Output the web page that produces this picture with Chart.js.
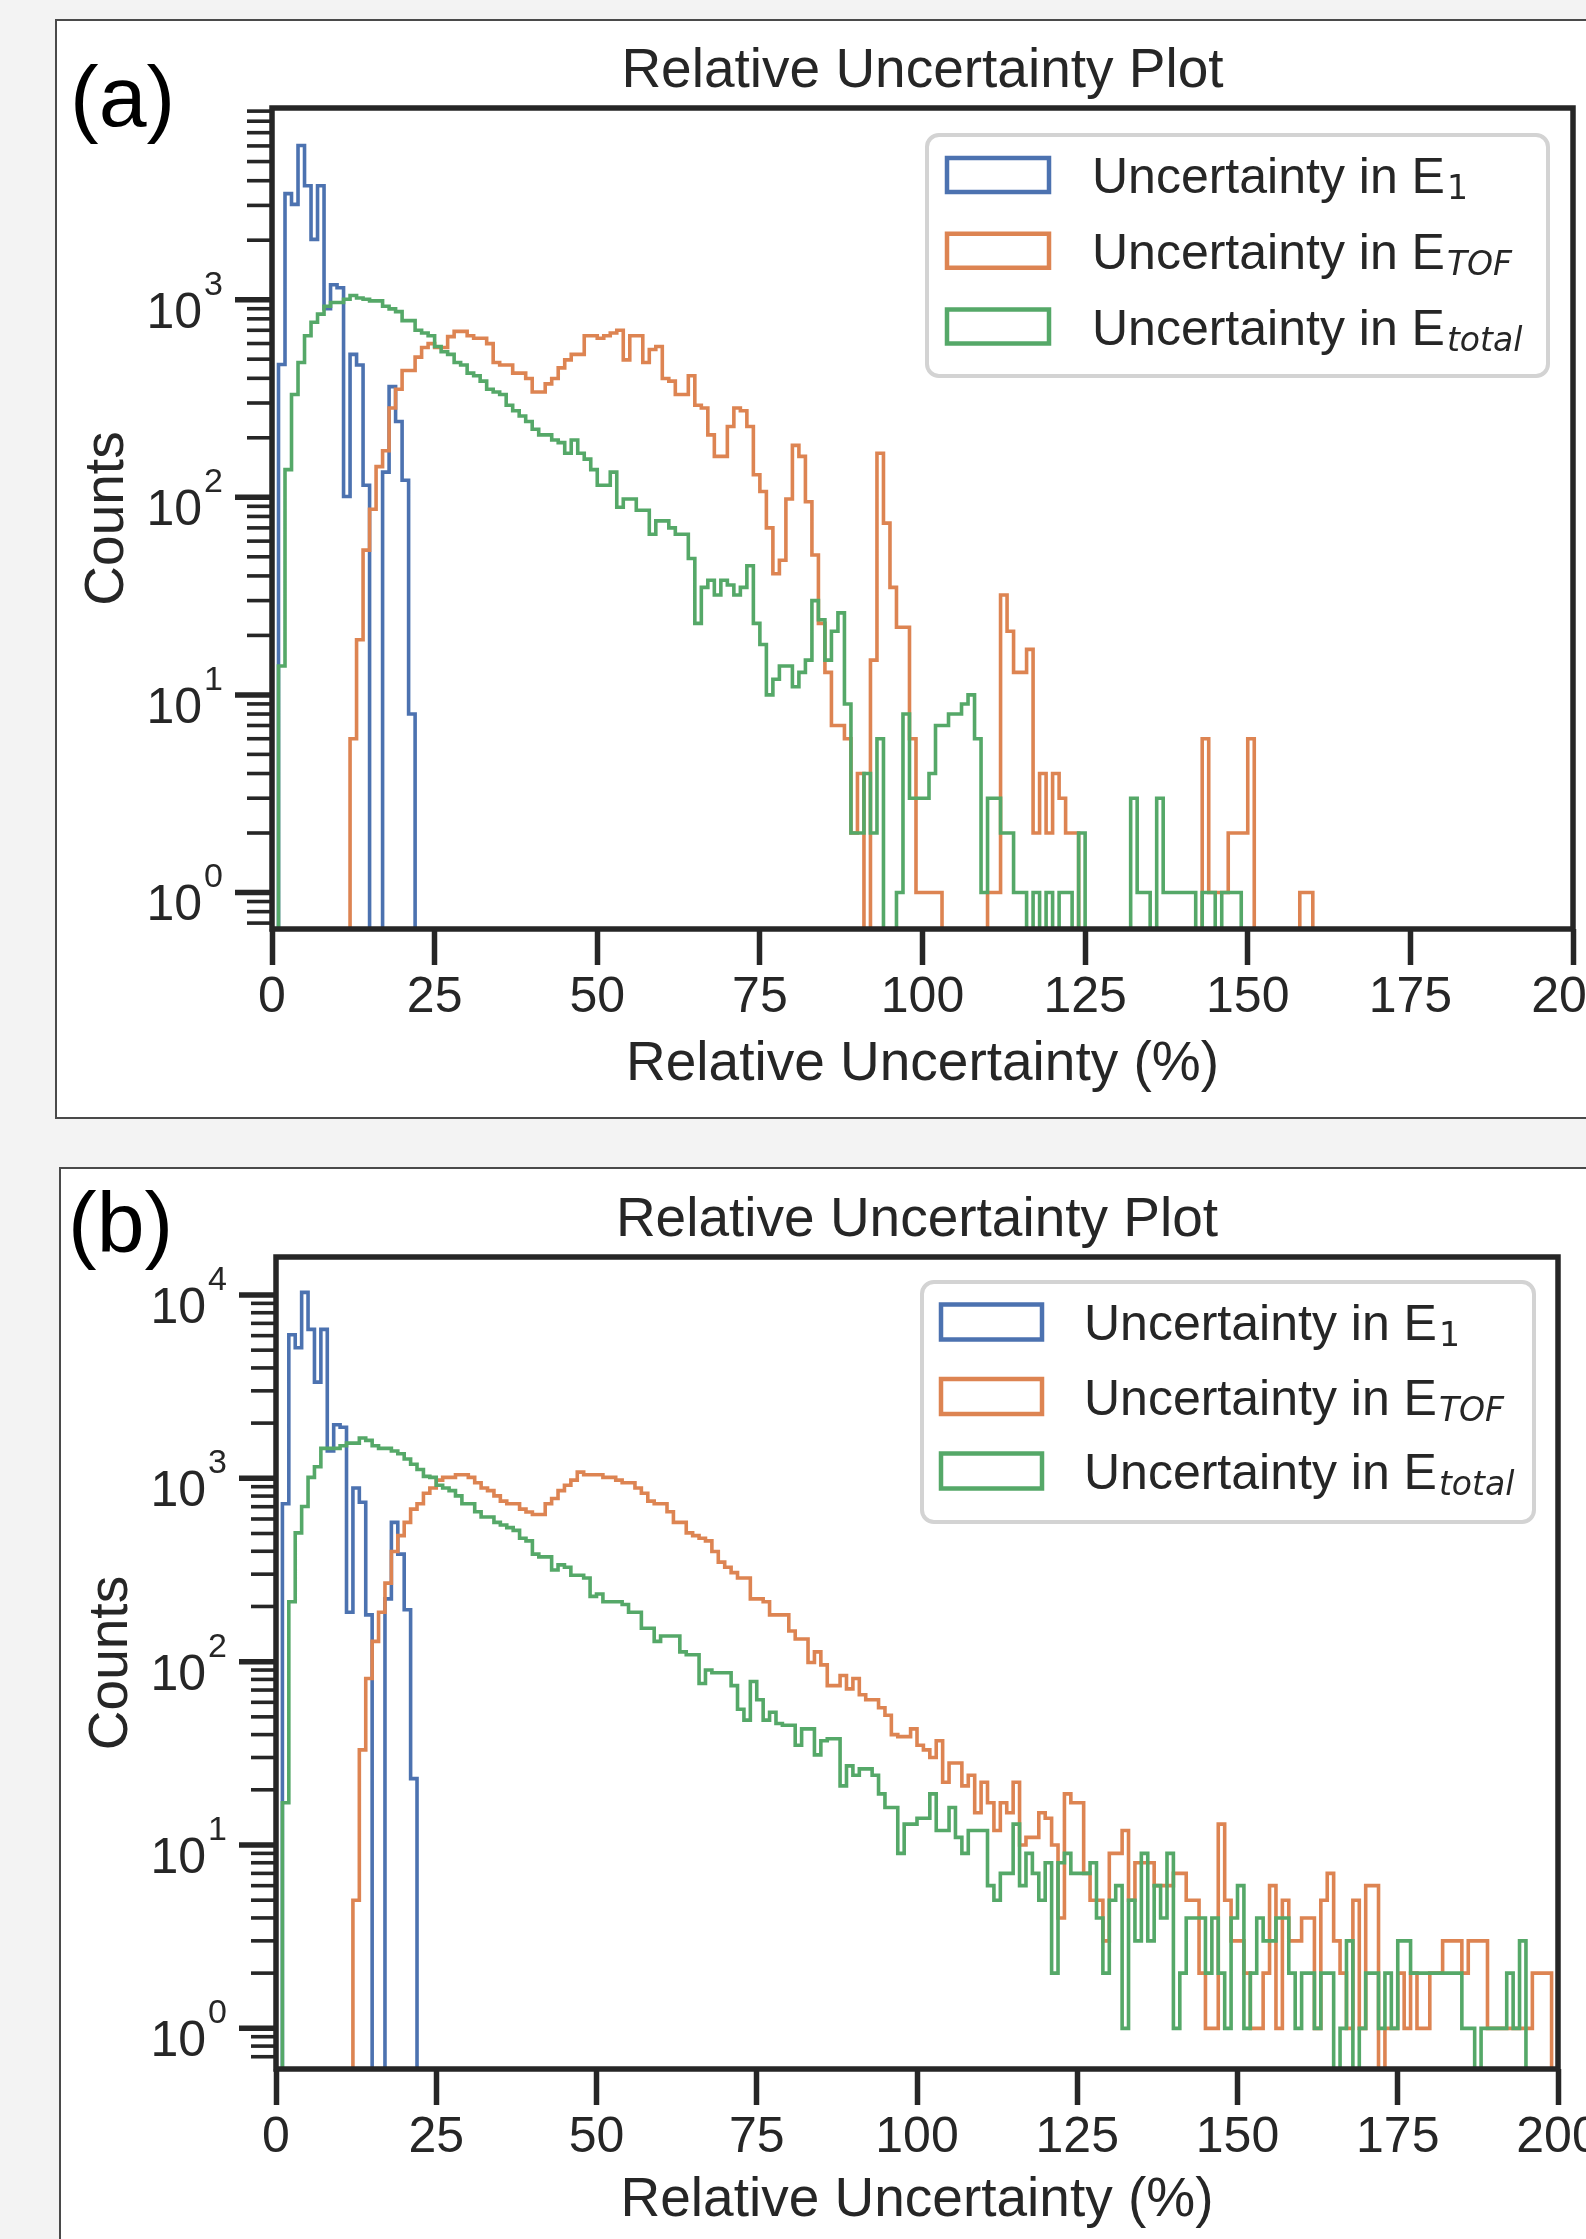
<!DOCTYPE html>
<html>
<head>
<meta charset="utf-8">
<title>Relative Uncertainty Plot</title>
<script src="https://cdn.jsdelivr.net/npm/chart.js@4.4.1/dist/chart.umd.min.js"></script>
<style>
  html, body { margin:0; padding:0; }
  body { width:1586px; height:2239px; overflow:hidden; position:relative; background:#f3f3f3; }
  .frame { position:absolute; background:#fff; border:2px solid #4a4a4a; box-sizing:border-box; }
  #frameA { left:55px; top:19px; width:1700px; height:1100px; }
  #frameB { left:59px; top:1167px; width:1700px; height:1200px; }
  canvas { position:absolute; left:0; }
  #cA { top:0; }
  #cB { top:1140px; }
</style>
</head>
<body>
<div class="frame" id="frameA"></div>
<div class="frame" id="frameB"></div>
<canvas id="cA" width="1700" height="1118"></canvas>
<canvas id="cB" width="1700" height="1099"></canvas>
<script>
// ---------------- DATA ----------------
// histogram bins: bin i covers [binStart + i*binWidth, binStart + (i+1)*binWidth)
const binStart = 0;
const binWidth = 1;

// Panel (a) counts per bin
const a_E1 = [0,470,3440,3035,6030,3775,2020,3775,900,1190, 1150,101,529,467,115,0,0,134,363,242, 122,8];
const a_ETOF = [
  0,0,0,0,0,0,0,0,0,0,
  0,0,6,19,54,87,143,172,283,352,
  438,438,512,573,599,573,573,650,691,691,
  657,638,638,599,481,467,467,425,425,399,
  341,341,375,399,452,496,529,529,657,657,
  638,657,678,700,496,657,657,481,560,580,
  399,387,331,331,412,292,283,207,161,161,
  228,283,274,228,130,107,70,41,48,98,
  183,161,95,51,23,13,7,7,6,2,
  4,0,15,167,74,35,22,22,6,1,
  1,1,1,0,0,0,0,0,0,0,
  1,1,32,21,13,13,17,2,4,2,
  4,3,2,2,0,0,0,0,0,0,
  0,0,0,0,0,0,0,0,0,0,
  0,0,0,6,1,1,1,2,2,2,
  6,0,0,0,0,0,0,0,1,1];
const a_Etotal = [
  0,14,138,331,481,657,769,845,927,968,
  968,1005,1050,1020,1005,986,986,927,898,870,
  783,783,700,678,657,580,545,529,481,467,
  425,412,387,352,341,331,292,274,258,242,
  221,207,207,195,189,167,195,167,156,138,
  115,115,134,89,98,98,86,86,65,76,
  76,70,65,65,49,23,35,38,32,38,
  36,32,35,45,23,18,10,12,14,14,
  11,13,15,30,24,15,21,26,9,2,
  2,4,2,6,0,0,1,8,3,3,
  3,4,7,7,8,8,9,10,6,1,
  3,3,2,2,1,1,0,1,0,1,
  0,1,1,0,2,0,0,0,0,0,
  0,0,3,1,1,0,3,1,1,1,
  1,1,0,1,1,0,1,1,1];

// Panel (b) counts per bin
const b_E1 = [0,726,6070,5150,10330,6490,3345,6490,1409,1960, 1900,186,886,740,180,0,0,220,575,386, 192,23];
const b_ETOF = [
  0,0,0,0,0,0,0,0,0,0,
  0,0,5,33,81,129,186,268,399,487,
  575,679,726,829,886,978,1012,1012,1046,1046,
  1012,946,886,857,802,751,726,726,679,655,
  635,635,726,776,857,916,978,1081,1046,1046,
  1046,1012,1012,978,946,946,886,829,751,726,
  726,657,575,575,504,487,471,456,399,349,
  327,306,286,286,220,220,212,180,180,180,
  147,133,133,99,113,96,74,74,84,71,
  81,66,62,62,56,51,40,39,39,43,
  35,33,30,37,22,28,28,21,24,15,
  22,17,12,17,15,22,10,11,11,15,
  14,10,4,19,17,17,7,5,5,3,
  9,9,12,5,8,8,8,6,6,6,
  7,7,5,5,2,1,1,13,5,3,
  3,2,1,1,2,6,1,5,3,3,
  4,4,1,5,7,3,2,1,5,1,
  6,6,0,1,1,2,1,2,1,1,
  2,2,3,3,3,2,3,3,3,1,
  1,1,1,1,1,1,2,2,2];
const b_Etotal = [
  0,17,212,504,702,1012,1156,1456,1456,1456,
  1506,1556,1556,1660,1610,1506,1456,1456,1409,1362,
  1275,1194,1117,1024,1012,916,886,857,802,726,
  726,657,615,615,575,556,538,520,471,456,
  386,373,373,316,337,327,296,296,286,227,
  234,212,212,212,205,186,186,152,152,129,
  138,138,138,113,109,109,76,90,87,87,
  87,74,55,48,78,62,48,53,46,45,
  45,35,43,43,31,37,38,38,21,27,
  24,26,26,24,19,16,16,9,13,13,
  14,14,19,12,12,16,11,9,12,12,
  12,6,5,7,7,13,6,9,7,5,
  8,2,8,9,7,7,7,8,4,2,
  5,6,1,5,3,9,3,6,4,9,
  1,2,4,4,4,2,4,2,1,4,
  6,1,2,4,3,3,4,4,2,1,
  2,2,1,2,2,0,1,3,0,1,
  2,2,1,2,1,3,3,2,2,2,
  2,2,2,2,2,1,1,0,1,1,
  1,1,2,1,3];

// Axis ticks / labels
const xTickValues = [0,25,50,75,100,125,150,175,200];
const yMajorA = [1,10,100,1000];
const yExpA = ['0','1','2','3'];
const yMinorA = [0.7,0.8,0.9,2,3,4,5,6,7,8,9,20,30,40,50,60,70,80,90,200,300,400,500,600,700,800,900,2000,3000,4000,5000,6000,7000,8000,9000];
const yMajorB = [1,10,100,1000,10000];
const yExpB = ['0','1','2','3','4'];
const yMinorB = [0.7,0.8,0.9,2,3,4,5,6,7,8,9,20,30,40,50,60,70,80,90,200,300,400,500,600,700,800,900,2000,3000,4000,5000,6000,7000,8000,9000];

const titleText = 'Relative Uncertainty Plot';
const xTitle = 'Relative Uncertainty (%)';
const yTitle = 'Counts';
const legendMain = 'Uncertainty in E';
const legendSubs = ['1','TOF','total'];
const legendSubItalic = [false,true,true];

// ---------------- STYLE ----------------
const FONT = '"Liberation Sans", Arial, sans-serif';
const INK = '#262626';
const COLORS = ['#4C72B0','#DD8452','#55A868'];
const ZERO = 0.01; // log axis: empty bins fall below the visible range (clipped)

function stepPoints(counts){
  const pts = [{x: binStart, y: ZERO}];
  counts.forEach((c, i) => pts.push({x: binStart + i*binWidth, y: c > 0 ? c : ZERO}));
  pts.push({x: binStart + counts.length*binWidth, y: ZERO});
  return pts;
}
function ds(counts, color, label, order){
  return { label, data: stepPoints(counts), borderColor: color, backgroundColor: color,
    borderWidth: 3.6, pointRadius: 0, fill: false, stepped: 'before', tension: 0,
    borderJoinStyle: 'miter', borderCapStyle: 'butt', order };
}
function line(ctx, x1, y1, x2, y2){ ctx.beginPath(); ctx.moveTo(x1,y1); ctx.lineTo(x2,y2); ctx.stroke(); }
function roundRect(ctx, x, y, w, h, r){
  ctx.beginPath();
  ctx.moveTo(x+r, y); ctx.lineTo(x+w-r, y); ctx.arcTo(x+w, y, x+w, y+r, r);
  ctx.lineTo(x+w, y+h-r); ctx.arcTo(x+w, y+h, x+w-r, y+h, r);
  ctx.lineTo(x+r, y+h); ctx.arcTo(x, y+h, x, y+h-r, r);
  ctx.lineTo(x, y+r); ctx.arcTo(x, y, x+r, y, r); ctx.closePath();
}

const decor = {
  id: 'decor',
  afterDraw(chart, args, o){
    const ctx = chart.ctx, a = chart.chartArea, y = chart.scales.y;
    ctx.save();
    ctx.strokeStyle = INK; ctx.fillStyle = INK;
    // y minor ticks
    ctx.lineWidth = 3.6;
    o.yMinor.forEach(v => { const py = y.getPixelForValue(v); line(ctx, a.left - 25, py, a.left, py); });
    // y major ticks + labels
    ctx.lineWidth = 5.5;
    o.yMajor.forEach((v, i) => {
      const py = y.getPixelForValue(v);
      line(ctx, a.left - 37, py, a.left, py);
      ctx.textAlign = 'right'; ctx.textBaseline = 'alphabetic';
      ctx.font = '34px ' + FONT;
      const sup = o.yExp[i];
      const w = ctx.measureText(sup).width;
      ctx.fillText(sup, a.left - 49, py - 5);
      ctx.font = '50px ' + FONT;
      ctx.fillText('10', a.left - 49 - w - 2, py + 28);
    });
    // axes frame
    ctx.lineWidth = 5.5;
    ctx.strokeRect(a.left, a.top, a.right - a.left, a.bottom - a.top);
    // title and axis titles
    ctx.textAlign = 'center'; ctx.textBaseline = 'alphabetic';
    ctx.font = '55px ' + FONT;
    ctx.fillText(titleText, (a.left + a.right)/2, a.top - 21);
    ctx.fillText(xTitle, (a.left + a.right)/2, a.bottom + o.xTitleOffset);
    ctx.save();
    ctx.translate(a.left - 149, (a.top + a.bottom)/2);
    ctx.rotate(-Math.PI/2);
    ctx.fillText(yTitle, 0, 0);
    ctx.restore();
    // panel label
    ctx.textAlign = 'left'; ctx.fillStyle = '#000';
    ctx.font = '86px ' + FONT;
    ctx.fillText(o.panel, o.panelX, o.panelY);
    // legend
    const L = o.legend;
    roundRect(ctx, L.x, L.y, L.w, L.h, 12);
    ctx.fillStyle = 'rgba(255,255,255,0.85)'; ctx.fill();
    ctx.strokeStyle = '#d3d3d3'; ctx.lineWidth = 4; ctx.stroke();
    chart.data.datasets.forEach((d, i) => {
      const cy = L.row0 + i*L.rowGap;
      ctx.strokeStyle = d.borderColor; ctx.lineWidth = 4.5;
      ctx.strokeRect(L.hx, cy - L.hh/2, L.hw, L.hh);
      ctx.fillStyle = INK; ctx.textAlign = 'left';
      ctx.font = '50px ' + FONT;
      const base = cy + 18;
      ctx.fillText(legendMain, L.tx, base);
      const w = ctx.measureText(legendMain).width;
      ctx.font = (legendSubItalic[i] ? 'oblique ' : '') + '33px "DejaVu Sans"';
      ctx.fillText(legendSubs[i], L.tx + w + 2, base + 6);
    });
    ctx.restore();
  }
};

function makeChart(id, P){
  return new Chart(document.getElementById(id), {
    type: 'line',
    data: { datasets: [
      ds(P.e1, COLORS[0], 'Uncertainty in E1', 3),
      ds(P.etof, COLORS[1], 'Uncertainty in ETOF', 2),
      ds(P.etotal, COLORS[2], 'Uncertainty in Etotal', 1)
    ]},
    options: {
      responsive: false, animation: false, events: [],
      layout: { padding: P.pad },
      plugins: { legend: {display: false}, tooltip: {enabled: false}, title: {display: false}, decor: P.decor },
      scales: {
        x: {
          type: 'linear', min: 0, max: 200,
          afterBuildTicks: s => { s.ticks = xTickValues.map(v => ({value: v})); },
          afterFit: s => { s.height = 100; s.paddingLeft = 0; s.paddingRight = 0; },
          ticks: { font: {family: FONT, size: 50}, color: INK, padding: 3, maxRotation: 0, autoSkip: false, callback: v => String(v) },
          grid: { drawOnChartArea: false, drawTicks: true, tickLength: 36, tickWidth: 5.5, tickColor: INK },
          border: { display: false }
        },
        y: { type: 'logarithmic', min: P.ymin, max: P.ymax, display: false }
      }
    },
    plugins: [decor]
  });
}

// Panel (a): chart area 272..1573 x 108..929 (canvas at page top 0)
makeChart('cA', {
  e1: a_E1, etof: a_ETOF, etotal: a_Etotal,
  ymin: 0.6535, ymax: 9333,
  pad: {left: 272, top: 108, right: 127, bottom: 89},
  decor: {
    yMajor: yMajorA, yExp: yExpA, yMinor: yMinorA, xTitleOffset: 151,
    panel: '(a)', panelX: 70, panelY: 126,
    legend: {x: 927, y: 135, w: 621, h: 241, hx: 947, hw: 102, hh: 34, tx: 1092, row0: 175, rowGap: 75.75}
  }
});
// Panel (b): chart area 276..1558 x 1257..2069 (canvas at page top 1140)
makeChart('cB', {
  e1: b_E1, etof: b_ETOF, etotal: b_Etotal,
  ymin: 0.605, ymax: 16110,
  pad: {left: 276, top: 117, right: 142, bottom: 70},
  decor: {
    yMajor: yMajorB, yExp: yExpB, yMinor: yMinorB, xTitleOffset: 147,
    panel: '(b)', panelX: 68, panelY: 112,
    legend: {x: 922, y: 142, w: 612, h: 240, hx: 941, hw: 101, hh: 35, tx: 1084, row0: 182, rowGap: 74.5}
  }
});
</script>
</body>
</html>
